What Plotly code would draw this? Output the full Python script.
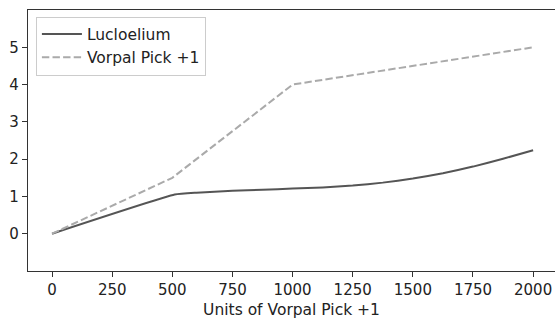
import plotly.graph_objects as go

luc_x = [0, 510, 600, 750, 875, 1000, 1125, 1250, 1375, 1500, 1625, 1750, 1875, 2000]
luc_y = [0, 1.05, 1.10, 1.15, 1.18, 1.21, 1.24, 1.29, 1.37, 1.48, 1.62, 1.80, 2.01, 2.24]

vp_x = [0, 500, 1000, 2000]
vp_y = [0, 1.5, 4.0, 5.0]

x_ticks = [0, 250, 500, 750, 1000, 1250, 1500, 1750, 2000]
y_ticks = [0, 1, 2, 3, 4, 5]

fig = go.Figure()
fig.add_trace(go.Scatter(x=luc_x, y=luc_y, mode="lines", name="Lucloelium",
                         line=dict(color="#555555", width=2, shape="spline", smoothing=0.4)))
fig.add_trace(go.Scatter(x=vp_x, y=vp_y, mode="lines", name="Vorpal Pick +1",
                         line=dict(color="#aaaaaa", width=2, dash="7.4px,3.2px")))

font = dict(family="DejaVu Sans", size=15, color="#222222")
fig.update_layout(
    width=555, height=320,
    margin=dict(l=28, r=0, t=10, b=49),
    paper_bgcolor="white", plot_bgcolor="white",
    font=font,
    showlegend=True,
    legend=dict(x=0.015, y=0.975, xanchor="left", yanchor="top",
                bordercolor="#cccccc", borderwidth=1, bgcolor="rgba(255,255,255,0.8)",
                font=dict(family="DejaVu Sans", size=15.5, color="#222222"),
                itemwidth=40, tracegroupgap=0),
    xaxis=dict(range=[-100, 2091], tickvals=x_ticks, ticks="outside", ticklen=5,
               tickcolor="#333333", showline=True, linecolor="#333333", linewidth=1.3,
               mirror=True, showgrid=False, zeroline=False,
               tickfont=dict(size=15),
               title=dict(text="Units of Vorpal Pick +1", standoff=5,
                          font=dict(size=15.5))),
    yaxis=dict(range=[-1, 6], tickvals=y_ticks, ticks="outside", ticklen=5,
               tickcolor="#333333", showline=True, linecolor="#333333", linewidth=1.3,
               mirror=False, showgrid=False, zeroline=False, tickfont=dict(size=15)),
)
fig.write_html("out.html", config={"displayModeBar": False},
               post_script="document.body.style.margin='0';")
